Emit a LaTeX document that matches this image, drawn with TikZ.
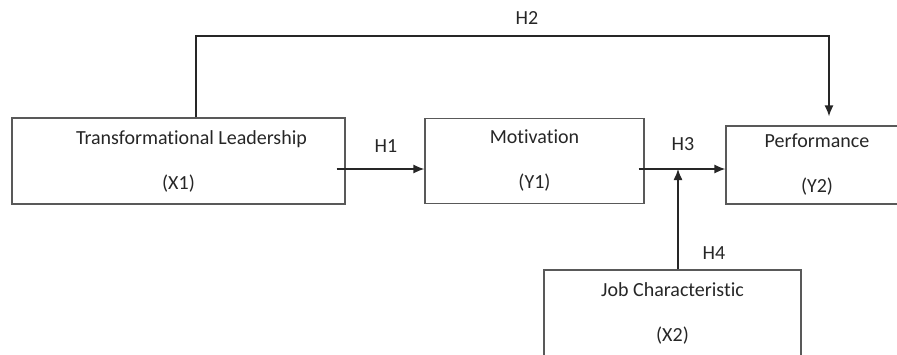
\documentclass[tikz,border=0pt]{standalone}
\usepackage{fontspec}
\setmainfont{Carlito}[Ligatures=NoCommon]
\usetikzlibrary{arrows.meta}
\begin{document}
\begin{tikzpicture}[x=1pt, y=-1pt,
    box/.style={draw=black!65, line width=1.3pt, text=black!85, align=center,
      inner sep=0pt, font=\fontsize{20}{24}\selectfont},
    lbl/.style={text=black!85, font=\fontsize{20}{24}\selectfont},
    arr/.style={draw=black!85, line width=1.3pt, -{Latex[length=11pt,width=9pt]}}]
    \clip (0,0) rectangle (897,354);
    % variables
    \node[box, minimum width=333pt, minimum height=86pt] (x1) at (178.5,161) {\hspace*{26pt}Transformational Leadership\\[21pt](X1)};
    \node[box, minimum width=219pt, minimum height=85pt] (y1) at (534.5,161) {Motivation\\[21pt](Y1)};
    \node[box, minimum width=182pt, minimum height=78pt] (y2) at (817,165) {Performance\\[21pt](Y2)};
    \node[box, minimum width=257pt, minimum height=86pt] (x2) at (672.5,313) {Job Characteristic\\[21pt](X2)};
    % connectors
    \coordinate (h1a) at ([xshift=-9pt,yshift=-8pt]x1.east);
    \coordinate (h3a) at ([xshift=-6pt,yshift=-8pt]y1.east);
    \coordinate (h4a) at ([xshift=5.5pt]x2.north);
    \coordinate (h2a) at ([xshift=17.5pt]x1.north);
    \coordinate (h2b) at ([xshift=12pt,yshift=9pt]y2.north);
    \draw[arr] (h1a) -- (h1a -| y1.west);
    \draw[arr] (h3a) -- (h3a -| y2.west);
    \draw[arr] (h4a) -- (h4a |- h3a);
    \draw[arr] (h2a) -- (h2a |- 0,36) -| (h2b);
    % hypotheses
    \node[lbl] (h1) at (386,146) {H1};
    \node[lbl] (h2) at (527,18) {H2};
    \node[lbl] (h3) at (683,144) {H3};
    \node[lbl] (h4) at (714,253) {H4};
\end{tikzpicture}
\end{document}
